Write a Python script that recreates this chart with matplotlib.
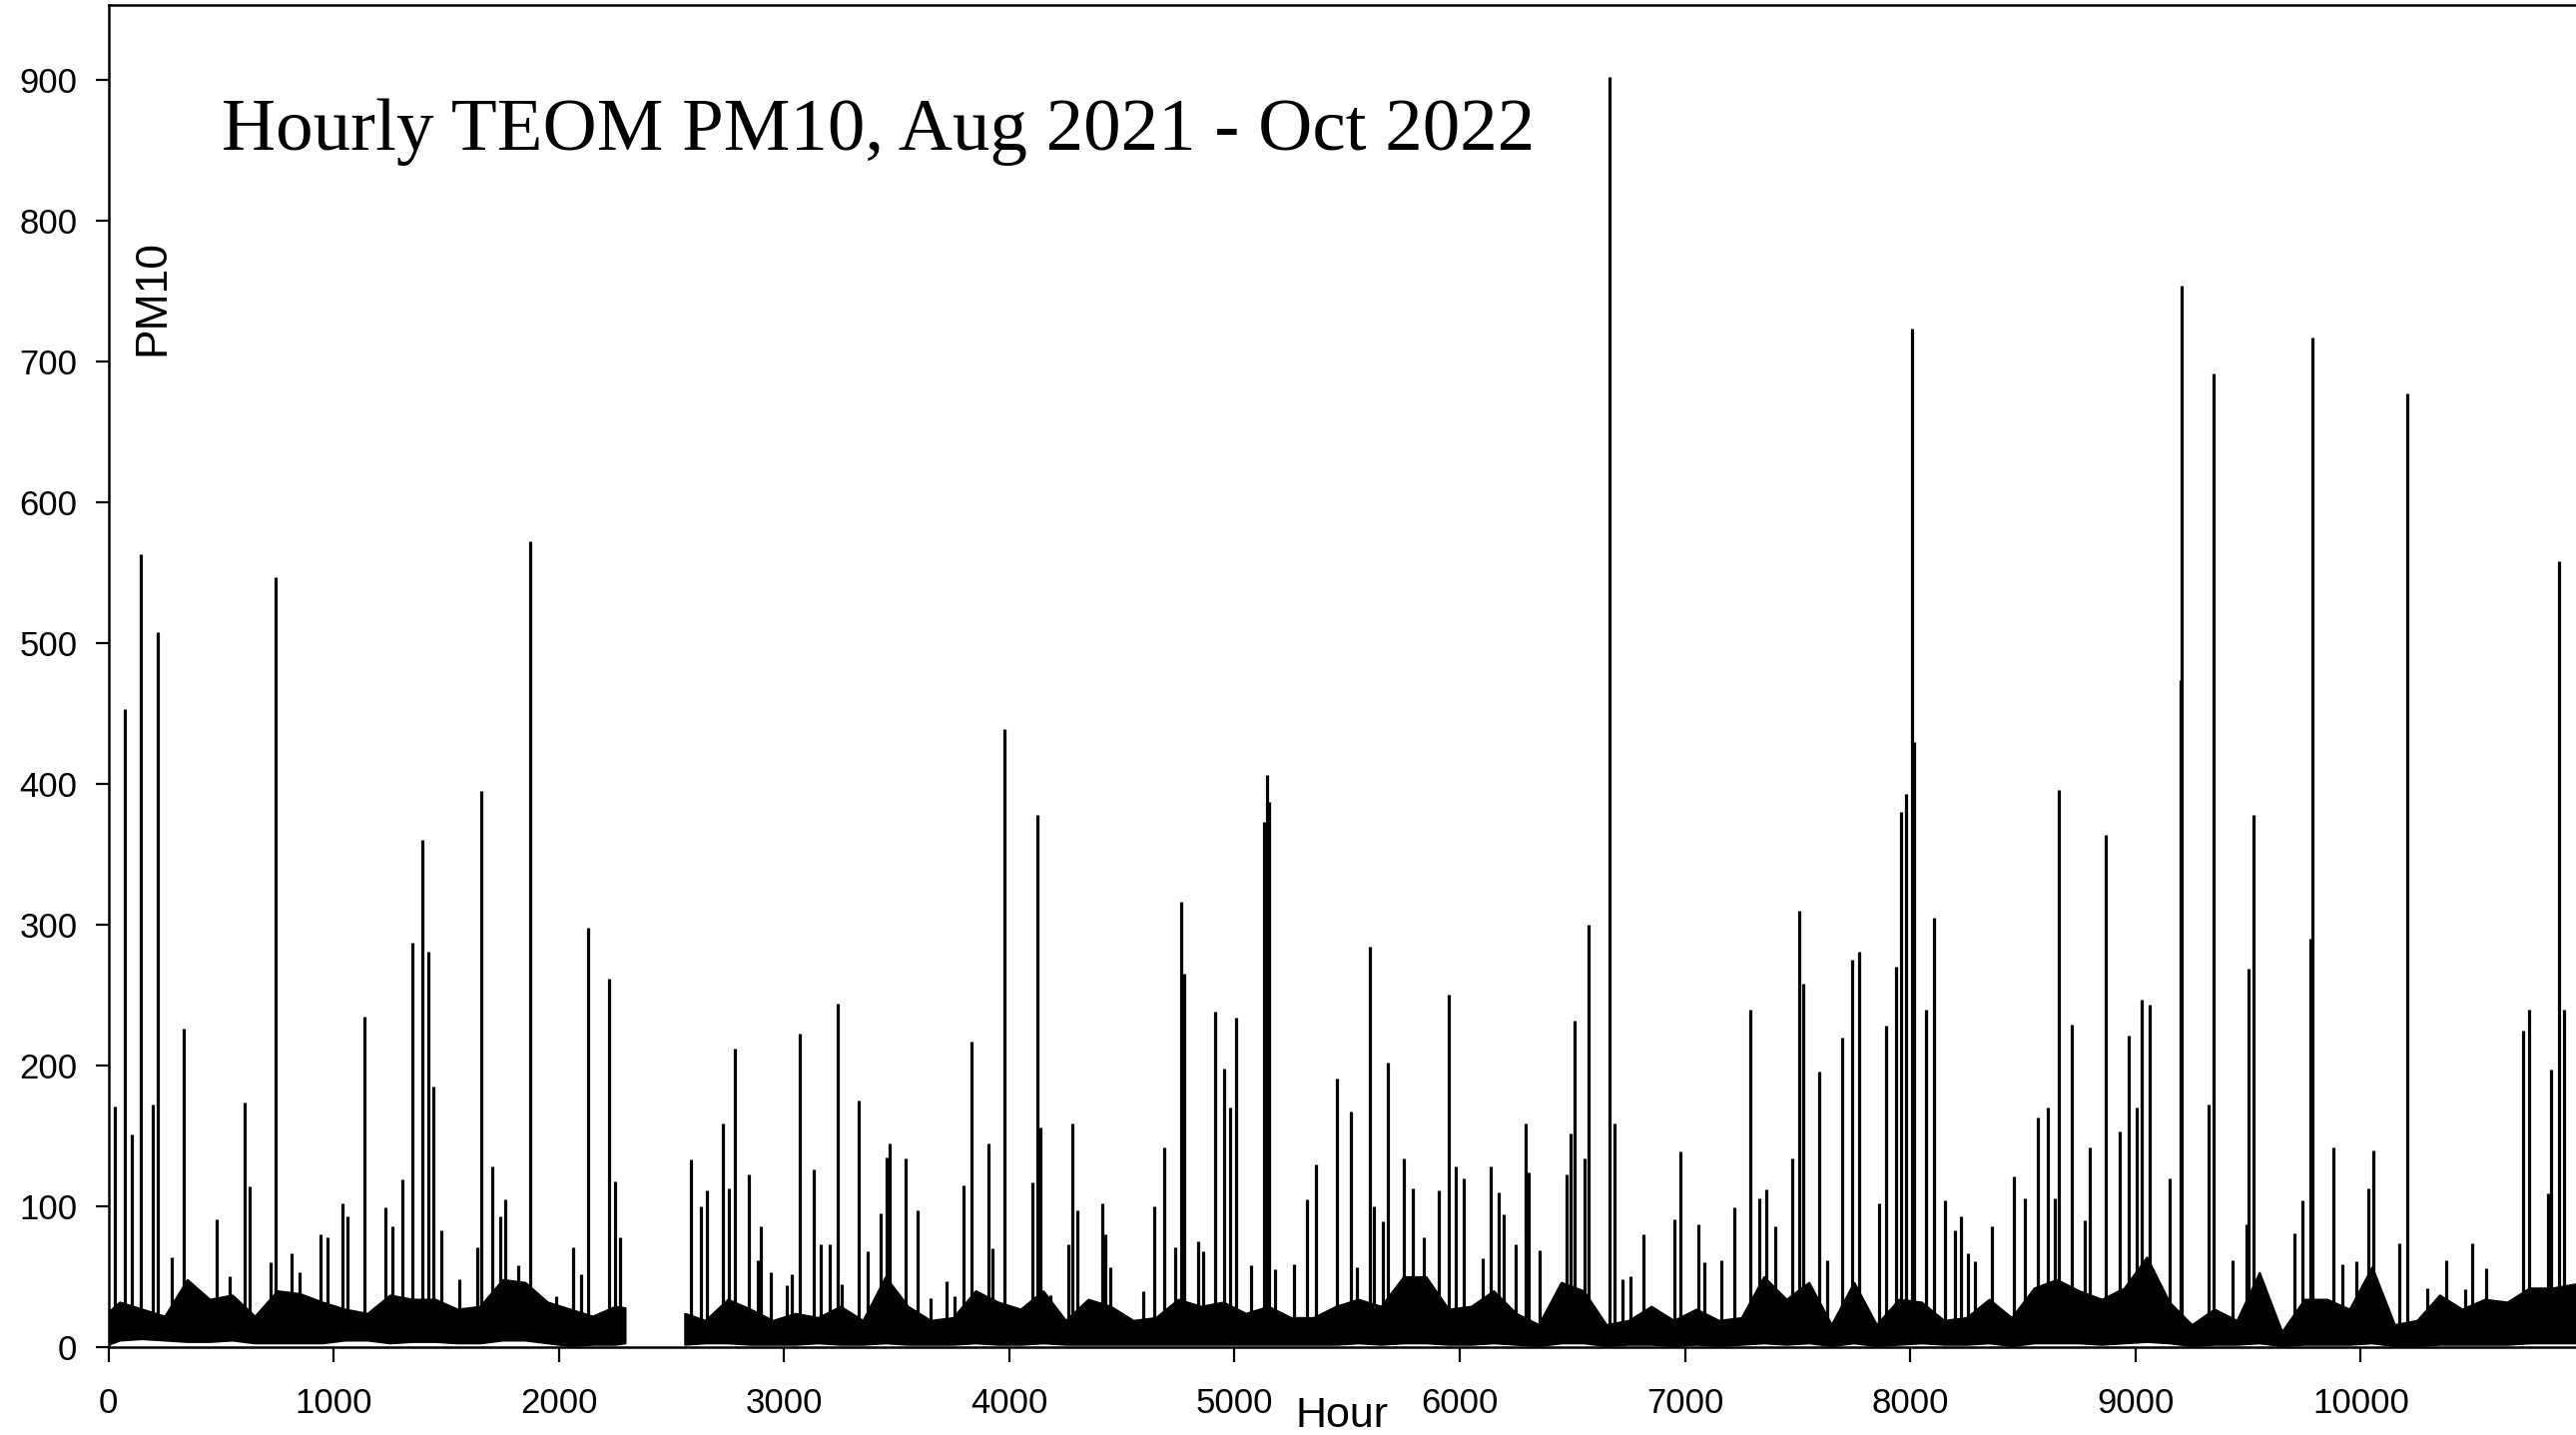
import numpy as np
import matplotlib
matplotlib.use("Agg")
import matplotlib.pyplot as plt

# ---------------- data ----------------
title = "Hourly TEOM PM10, Aug 2021 - Oct 2022"
x_ticks = [0, 1000, 2000, 3000, 4000, 5000, 6000, 7000, 8000, 9000, 10000]
y_ticks = [0, 100, 200, 300, 400, 500, 600, 700, 800, 900]

# dense background band of the hourly series (segment 1, before the data gap)
band1_hours = [0, 50, 150, 250, 350, 450, 550, 650, 750, 850, 950, 1050, 1150,
               1250, 1350, 1450, 1550, 1650, 1750, 1850, 1950, 2050, 2150, 2250, 2294]
band1_top = [25, 32, 27, 22, 48, 34, 37, 22, 40, 38, 32, 27, 24,
             37, 34, 34, 27, 29, 48, 46, 32, 27, 22, 29, 28]
band1_low = [2, 5, 6, 5, 4, 4, 5, 3, 3, 3, 3, 5, 5,
             3, 4, 4, 3, 3, 5, 5, 3, 1, 2, 2, 3]

# segment 2, after the gap
band2_hours = [2559, 2650, 2750, 2850, 2950, 3050, 3150, 3250, 3350, 3450, 3550,
               3650, 3750, 3850, 3950, 4050, 4150, 4250, 4350, 4450, 4550,
               4650, 4750, 4850, 4950, 5050, 5150, 5250, 5350, 5450, 5550,
               5650, 5750, 5850, 5950, 6050, 6150, 6250, 6350, 6450, 6550,
               6650, 6750, 6850, 6950, 7050, 7150, 7250, 7350, 7450, 7550,
               7650, 7750, 7850, 7950, 8050, 8150, 8250, 8350, 8450, 8550,
               8650, 8750, 8850, 8950, 9050, 9150, 9250, 9350, 9450, 9550,
               9650, 9750, 9850, 9950, 10050, 10150, 10250, 10350, 10450, 10550,
               10650, 10750, 10850, 10956]
band2_top = [24, 19, 34, 27, 19, 24, 21, 29, 19, 50, 29,
             19, 21, 40, 32, 27, 40, 19, 34, 29, 19,
             21, 34, 29, 32, 24, 29, 21, 21, 29, 34,
             29, 50, 50, 27, 29, 40, 24, 16, 46, 40,
             16, 19, 29, 19, 27, 19, 21, 50, 34, 46,
             16, 46, 16, 34, 32, 19, 21, 34, 21, 42,
             48, 40, 34, 42, 64, 32, 16, 27, 19, 53,
             11, 34, 34, 27, 57, 16, 19, 37, 27, 34,
             32, 42, 42, 45]
band2_low = [2, 3, 3, 2, 2, 2, 3, 2, 2, 3, 2,
             2, 2, 3, 2, 2, 3, 2, 2, 2, 2,
             2, 2, 2, 2, 2, 2, 2, 2, 2, 3,
             2, 3, 3, 2, 2, 3, 2, 1, 3, 3,
             1, 2, 2, 1, 2, 1, 2, 3, 2, 3,
             1, 3, 1, 2, 3, 2, 2, 3, 1, 3,
             3, 3, 2, 3, 4, 3, 1, 2, 2, 3,
             1, 2, 2, 2, 3, 1, 1, 2, 2, 2,
             2, 3, 3, 3]

# individual peaks (hour, PM10)
spike_hours = [30, 73, 102, 146, 197, 219, 283, 335, 481, 540, 605, 627, 720, 744,
               814, 850, 941, 973, 1038, 1060, 1138, 1230, 1262, 1305, 1349, 1393,
               1422, 1444, 1477, 1560, 1638, 1655, 1706, 1740, 1762, 1820, 1874,
               1990, 2063, 2100, 2129, 2224, 2249, 2274,
               2588, 2631, 2657, 2730, 2756, 2780, 2842, 2882, 2898, 2942, 3010,
               3035, 3068, 3134, 3165, 3205, 3238, 3255, 3333, 3370, 3427, 3454,
               3467, 3538, 3592, 3650, 3720, 3755, 3798, 3833, 3907, 3925, 3980,
               4104, 4124, 4138, 4182, 4261, 4280, 4300, 4413, 4428, 4447, 4595,
               4644, 4689, 4736, 4765, 4775, 4840, 4862, 4913, 4954, 4980, 5006,
               5075, 5131, 5146, 5155, 5180, 5266, 5323, 5360, 5453, 5515, 5545,
               5601, 5619, 5659, 5682, 5750, 5790, 5840, 5909, 5949, 5984, 6019,
               6100, 6138, 6174, 6195, 6247, 6292, 6308, 6353, 6424, 6475, 6490,
               6509, 6556, 6571, 6667, 6689, 6723, 6760, 6815, 6955, 6980, 7059,
               7084, 7162, 7217, 7288, 7332, 7360, 7403, 7477, 7505, 7524, 7598,
               7630, 7697, 7741, 7775, 7864, 7891, 7938, 7960, 7982, 8010, 8018,
               8072, 8107, 8155, 8198, 8226, 8258, 8289, 8363, 8459, 8509, 8567,
               8611, 8640, 8660, 8717, 8775, 8795, 8866, 8932, 8969, 9005, 9027,
               9064, 9153, 9200, 9204, 9326, 9348, 9430, 9492, 9501, 9523, 9707,
               9740, 9778, 9786, 9880, 9920, 9979, 10036, 10056, 10173, 10209,
               10296, 10380, 10466, 10494, 10555, 10719, 10748, 10831, 10843,
               10879, 10901, 10938]
spike_values = [171, 453, 151, 563, 172, 508, 64, 226, 91, 50, 174, 114, 60, 547,
                67, 53, 80, 78, 102, 93, 235, 99, 86, 119, 287, 360,
                281, 185, 83, 48, 71, 395, 128, 93, 105, 58, 572,
                36, 71, 52, 298, 262, 118, 78,
                133, 100, 111, 159, 113, 212, 123, 62, 86, 53, 44,
                52, 223, 126, 73, 73, 244, 45, 175, 68, 95, 135,
                145, 134, 97, 35, 47, 36, 115, 217, 145, 70, 439,
                117, 378, 156, 37, 73, 159, 97, 102, 80, 57, 40,
                100, 142, 71, 316, 265, 75, 68, 238, 198, 170, 234,
                58, 373, 406, 387, 55, 59, 105, 130, 191, 167, 57,
                284, 100, 89, 202, 134, 113, 78, 111, 250, 128, 120,
                63, 128, 110, 94, 73, 159, 124, 69, 30, 123, 152,
                232, 134, 300, 902, 159, 48, 50, 80, 91, 139, 87,
                60, 62, 99, 240, 106, 112, 86, 134, 310, 258, 196,
                62, 220, 275, 281, 102, 228, 270, 380, 393, 723, 430,
                240, 305, 104, 83, 93, 67, 61, 86, 121, 106, 163,
                170, 106, 396, 229, 90, 142, 364, 153, 221, 170, 247,
                243, 120, 474, 754, 172, 691, 62, 87, 269, 378, 81,
                104, 290, 717, 142, 59, 61, 113, 140, 74, 677,
                42, 62, 41, 74, 56, 225, 240, 109, 197,
                558, 240, 45]

# ---------------- figure ----------------
W, H = 2580, 1437
fig = plt.figure(figsize=(W / 100, H / 100), dpi=100)
ax = fig.add_axes([108.5 / W, 1 - 1349 / H, 1 - 108.5 / W, (1349 - 5) / H])

for hrs, low, top in [(band1_hours, band1_low, band1_top),
                      (band2_hours, band2_low, band2_top)]:
    ax.fill_between(hrs, low, top, color="black", lw=1.5, edgecolor="black")

all_h = np.array(band1_hours + band2_hours, dtype=float)
all_low = np.array(band1_low + band2_low, dtype=float)
base = np.interp(spike_hours, all_h, all_low)
ax.vlines(spike_hours, base, spike_values, color="black", lw=2.3)

ax.set_xlim(0, 10956)
ax.set_ylim(0, 953)
ax.set_xticks(x_ticks)
ax.set_yticks(y_ticks)
ax.spines["right"].set_visible(False)
for s in ("left", "bottom", "top"):
    ax.spines[s].set_linewidth(1.8)

ax.tick_params(axis="x", direction="out", length=10.8, width=1.6,
               labelsize=25, pad=18)
ax.tick_params(axis="y", direction="out", length=9.4, width=1.6,
               labelsize=25, pad=13)
for lab in ax.get_xticklabels() + ax.get_yticklabels():
    lab.set_family("Liberation Sans")

fig.text(153 / W, 1 - 298 / H, "PM10", rotation=90, ha="center", va="center",
         fontsize=32, family="Liberation Sans")
fig.text(1344 / W, 1 - 1429 / H, "Hour", ha="center", va="baseline",
         fontsize=31, family="Liberation Sans")
fig.text(222 / W, 1 - 150 / H, title, ha="left", va="baseline",
         fontsize=54, family="Liberation Serif")

fig.savefig("out.png", dpi=100)
